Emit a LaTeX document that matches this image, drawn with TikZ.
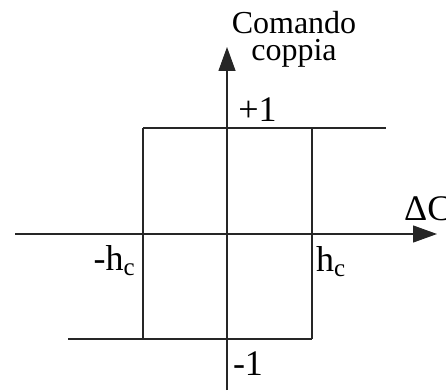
\documentclass[tikz,border=0pt]{standalone}
\usepackage{fontspec}
\setmainfont{Liberation Serif}
\usetikzlibrary{arrows.meta}
\tikzset{
  ln/.style={line width=1.3pt, draw=black!85},
  axis/.style={ln, -{Triangle[length=24pt,width=17pt]}},
  lbl/.style={inner sep=0pt, font=\fontsize{36}{36}\selectfont},
  ttl/.style={inner sep=0pt, font=\fontsize{32}{27}\selectfont, align=center, anchor=north},
}
\newcommand{\subc}{\raisebox{-5pt}{\fontsize{25}{25}\selectfont c}}
\begin{document}
\begin{tikzpicture}[x=1pt,y=-1pt]
\useasboundingbox (0,0) rectangle (446,390);
\clip (0,0) rectangle (446,390);
% coordinates
\coordinate (ybot) at (227,390);
\coordinate (ytop) at (227,47);
\coordinate (xl) at (15,234);
\coordinate (xr) at (437,234);
\coordinate (ul) at (143,128);
\coordinate (ur) at (386,128);
\coordinate (urc) at (312,128);
\coordinate (ll) at (68,339);
\coordinate (lr) at (312,339);
\coordinate (llc) at (143,339);
% axes
\draw[axis] (xl) -- (xr);
\draw[axis] (ybot) -- (ytop);
% hysteresis
\draw[ln] (ul) -- (ur);
\draw[ln] (ll) -- (lr);
\draw[ln] (ul) -- (llc);
\draw[ln] (urc) -- (lr);
% labels
\node[ttl] (cmd) at (294,11) {Comando\\coppia};
\node[lbl, anchor=base] (p1) at (257.5,122) {+1};
\node[lbl, anchor=base] (m1) at (248,375) {-1};
\node[lbl, anchor=base east] (mhc) at (135,270) {-h\subc};
\node[lbl, anchor=base west] (hc) at (316,271) {h\subc};
\node[lbl, anchor=base west] (dc) at (404,220) {ΔC};
\end{tikzpicture}
\end{document}
